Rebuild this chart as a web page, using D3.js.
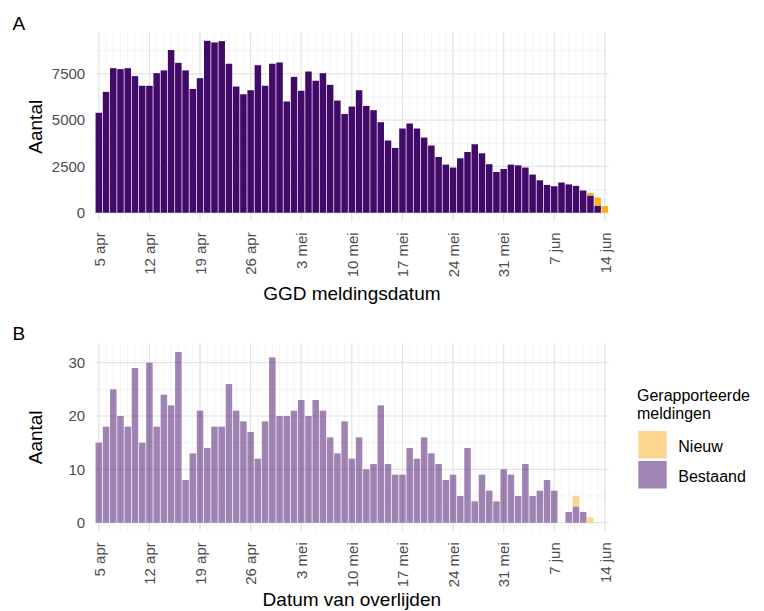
<!DOCTYPE html>
<html>
<head>
<meta charset="utf-8">
<script src="https://cdn.jsdelivr.net/npm/d3@7"></script>
<style>
  html, body { margin: 0; padding: 0; background: #fff; }
  svg { display: block; font-family: "Liberation Sans", Arial, sans-serif; }
</style>
</head>
<body>
<svg id="chart" width="764" height="611"></svg>
<script>
// ---------- DATA ----------
const startDate = "2020-04-05";
const endDate = "2020-06-14";

// Panel A: GGD meldingsdatum (per day, 5 apr .. 14 jun)
const casesBestaand = [
  5400, 6530, 7810, 7760, 7810, 7380, 6860, 6860, 7540, 7690,
  8790, 8100, 7690, 6690, 7270, 9290, 9200, 9270, 8050, 6820,
  6400, 6620, 7970, 6860, 8050, 8120, 6010, 7340, 6590, 7630,
  7130, 7540, 6910, 6060, 5340, 5740, 6620, 5770, 5540, 4890,
  3900, 3500, 4550, 4820, 4550, 4060, 3630, 3010, 2600, 2440,
  2940, 3280, 3700, 3210, 2620, 2200, 2360, 2600, 2560, 2440,
  2060, 1750, 1500, 1430, 1630, 1530, 1450, 1200, 930, 380,
  0
];
const casesNieuw = [
  0, 0, 0, 0, 0, 0, 0, 0, 0, 0,
  0, 0, 0, 0, 0, 0, 0, 0, 0, 0,
  0, 0, 0, 0, 0, 0, 0, 0, 0, 0,
  0, 0, 0, 0, 0, 0, 0, 0, 0, 0,
  0, 0, 0, 0, 0, 0, 0, 0, 0, 0,
  0, 0, 0, 0, 0, 0, 0, 0, 0, 0,
  0, 0, 0, 0, 0, 0, 0, 0, 140, 440,
  360
];

// Panel B: Datum van overlijden
const deathsBestaand = [
  15, 18, 25, 20, 18, 29, 15, 30, 18, 24,
  22, 32, 8, 13, 21, 14, 18, 18, 26, 21,
  19, 17, 12, 19, 31, 20, 20, 21, 23, 20,
  23, 21, 16, 13, 19, 12, 16, 10, 11, 22,
  11, 9, 9, 14, 12, 16, 13, 11, 8, 9,
  5, 14, 4, 9, 6, 4, 10, 9, 5, 11,
  5, 6, 8, 6, 0, 2, 3, 2, 0, 0,
  0
];
const deathsNieuw = [
  0, 0, 0, 0, 0, 0, 0, 0, 0, 0,
  0, 0, 0, 0, 0, 0, 0, 0, 0, 0,
  0, 0, 0, 0, 0, 0, 0, 0, 0, 0,
  0, 0, 0, 0, 0, 0, 0, 0, 0, 0,
  0, 0, 0, 0, 0, 0, 0, 0, 0, 0,
  0, 0, 0, 0, 0, 0, 0, 0, 0, 0,
  0, 0, 0, 0, 0, 0, 2, 0, 1, 0,
  0
];

const xTickLabels = ["5 apr", "12 apr", "19 apr", "26 apr", "3 mei", "10 mei",
                     "17 mei", "24 mei", "31 mei", "7 jun", "14 jun"];
const yTicksA = [0, 2500, 5000, 7500];
const yMinorA = [1250, 3750, 6250, 8750];
const yTicksB = [0, 10, 20, 30];
const yMinorB = [5, 15, 25];

const seriesKeys = ["Bestaand", "Nieuw"];
const legendTitle = ["Gerapporteerde", "meldingen"];
const legendLabels = ["Nieuw", "Bestaand"];

// ---------- SETUP ----------
const parse = d3.timeParse("%Y-%m-%d");
const d0 = parse(startDate), d1 = parse(endDate);
const dates = d3.timeDay.range(d0, d3.timeDay.offset(d1, 1));
const tickDates = d3.timeDay.every(7).range ? d3.timeDay.range(d0, d3.timeDay.offset(d1, 1), 7) : [];

const COL_PURPLE = "#420a68";
const COL_YELLOW = "#fbb020";

const svg = d3.select("#chart");
const PL = 95.2, PR = 608.5;

const x = d3.scaleTime()
  .domain([d3.timeHour.offset(d0, -12), d3.timeHour.offset(d1, 12)])
  .range([PL, PR]);
const step = x(d3.timeDay.offset(d0, 1)) - x(d0);
const barW = step * 0.9;

function panel(cfg) {
  const { top, bottom, bestaand, nieuw, yTicks, yMinor, alpha, label, title, tag } = cfg;
  const totals = bestaand.map((v, i) => v + nieuw[i]);
  const maxV = d3.max(totals);
  const pad = maxV * 0.05;
  const y = d3.scaleLinear().domain([-pad, maxV + pad]).range([bottom, top]);

  const g = svg.append("g");

  // gridlines
  const grid = g.append("g");
  grid.selectAll("line.vmin").data(dates).join("line")
    .attr("x1", d => x(d)).attr("x2", d => x(d))
    .attr("y1", top).attr("y2", bottom)
    .attr("stroke", "#ececec").attr("stroke-width", 0.6);
  grid.selectAll("line.hmin").data(yMinor).join("line")
    .attr("x1", PL).attr("x2", PR)
    .attr("y1", d => y(d)).attr("y2", d => y(d))
    .attr("stroke", "#ececec").attr("stroke-width", 0.7);
  grid.selectAll("line.vmaj").data(tickDates).join("line")
    .attr("x1", d => x(d)).attr("x2", d => x(d))
    .attr("y1", top).attr("y2", bottom)
    .attr("stroke", "#e3e3e3").attr("stroke-width", 1.1);
  grid.selectAll("line.hmaj").data(yTicks).join("line")
    .attr("x1", PL).attr("x2", PR)
    .attr("y1", d => y(d)).attr("y2", d => y(d))
    .attr("stroke", "#e3e3e3").attr("stroke-width", 1.2);

  // stacked bars
  const rows = dates.map((d, i) => ({ date: d, Bestaand: bestaand[i], Nieuw: nieuw[i] }));
  const stacked = d3.stack().keys(seriesKeys)(rows);
  const colors = { Bestaand: COL_PURPLE, Nieuw: COL_YELLOW };
  g.append("g").selectAll("g").data(stacked).join("g")
    .attr("fill", s => colors[s.key])
    .attr("fill-opacity", alpha)
    .selectAll("rect").data(s => s.filter(p => p[1] - p[0] > 0)).join("rect")
    .attr("x", p => x(p.data.date) - barW / 2)
    .attr("width", barW)
    .attr("y", p => y(p[1]))
    .attr("height", p => y(p[0]) - y(p[1]));

  // y axis
  const ya = g.append("g").attr("transform", `translate(${PL},0)`)
    .call(d3.axisLeft(y).tickValues(yTicks).tickSize(0).tickPadding(10).tickFormat(d3.format("d")));
  ya.select(".domain").remove();
  ya.selectAll("text").attr("font-size", 15).attr("fill", "#4d4d4d")
    .attr("font-family", "Liberation Sans, Arial, sans-serif");

  // x axis
  const xa = g.append("g").attr("transform", `translate(0,${bottom})`)
    .call(d3.axisBottom(x).tickValues(tickDates).tickSize(0).tickFormat((d, i) => xTickLabels[i]));
  xa.select(".domain").remove();
  xa.selectAll("text")
    .attr("transform", "rotate(-90)")
    .attr("x", -11).attr("y", 0).attr("dy", "0.35em")
    .style("text-anchor", "end")
    .attr("font-size", 15).attr("fill", "#4d4d4d")
    .attr("font-family", "Liberation Sans, Arial, sans-serif");

  // y title
  svg.append("text")
    .attr("transform", `translate(42.3,${(top + bottom) / 2}) rotate(-90)`)
    .attr("text-anchor", "middle").attr("font-size", 19).attr("fill", "#000")
    .text("Aantal");
  // x title
  svg.append("text")
    .attr("x", (PL + PR) / 2).attr("y", cfg.titleY)
    .attr("text-anchor", "middle").attr("font-size", 19).attr("fill", "#000")
    .text(title);
  // tag
  svg.append("text").attr("x", 12.5).attr("y", cfg.tagY)
    .attr("font-size", 19).attr("fill", "#000").text(tag);
}

panel({ top: 32.2, bottom: 221.3, bestaand: casesBestaand, nieuw: casesNieuw,
        yTicks: yTicksA, yMinor: yMinorA, alpha: 1, title: "GGD meldingsdatum",
        titleY: 300, tag: "A", tagY: 30 });
panel({ top: 343.5, bottom: 531.2, bestaand: deathsBestaand, nieuw: deathsNieuw,
        yTicks: yTicksB, yMinor: yMinorB, alpha: 0.5, title: "Datum van overlijden",
        titleY: 606, tag: "B", tagY: 340 });

// legend
const lg = svg.append("g");
legendTitle.forEach((t, i) => {
  lg.append("text").attr("x", 637).attr("y", 400.7 + i * 18.3)
    .attr("font-size", 16).attr("fill", "#000").text(t);
});
const legendColors = { Nieuw: COL_YELLOW, Bestaand: COL_PURPLE };
legendLabels.forEach((t, i) => {
  const ky = 431 + i * 30;
  lg.append("rect").attr("x", 638.3).attr("y", ky).attr("width", 28.4).attr("height", 27.5)
    .attr("fill", legendColors[t]).attr("fill-opacity", 0.5);
  lg.append("text").attr("x", 678.3).attr("y", ky + 20.5)
    .attr("font-size", 16).attr("fill", "#000").text(t);
});
</script>
</body>
</html>
